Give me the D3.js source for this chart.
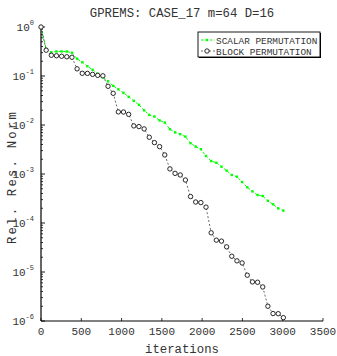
<!DOCTYPE html>
<html>
<head>
<meta charset="utf-8">
<script src="https://cdn.jsdelivr.net/npm/d3@7"></script>
<style>
  html, body { margin: 0; padding: 0; background: #fff; }
  svg { display: block; }
  text { font-family: "Liberation Mono", "Courier New", monospace; fill: #333; }
</style>
</head>
<body>
<svg id="chart" width="337" height="356"></svg>
<script>
// Restart-cycle iteration counts (m = 64)
const iterations = [0, 64, 128, 192, 256, 320, 384, 448, 512, 576, 640, 704, 768, 832, 896, 960,
  1024, 1088, 1152, 1216, 1280, 1344, 1408, 1472, 1536, 1600, 1664, 1728, 1792, 1856, 1920, 1984,
  2048, 2112, 2176, 2240, 2304, 2368, 2432, 2496, 2560, 2624, 2688, 2752, 2816, 2880, 2944, 3008];

// Relative residual norm, scalar permutation
const scalarRes = [1.0, 0.360, 0.305, 0.317, 0.317, 0.316, 0.298, 0.225, 0.191, 0.158, 0.134, 0.111,
  0.0940, 0.0779, 0.0630, 0.0535, 0.0453, 0.0376, 0.0311, 0.0258, 0.0199, 0.0161, 0.0149, 0.0124,
  0.0112, 0.00820, 0.00706, 0.00649, 0.00579, 0.00425, 0.00362, 0.00320, 0.00233, 0.00184, 0.00170,
  0.00141, 0.00117, 0.000955, 0.000881, 0.000686, 0.000535, 0.000443, 0.000372, 0.000355, 0.000283,
  0.000241, 0.000199, 0.000179];

// Relative residual norm, block permutation
const blockRes = [1.0, 0.336, 0.265, 0.259, 0.253, 0.247, 0.241, 0.140, 0.1135, 0.113, 0.108, 0.103,
  0.101, 0.0616, 0.0443, 0.0185, 0.0184, 0.0165, 0.00959, 0.00928, 0.00832, 0.00563, 0.00437, 0.00362,
  0.00245, 0.00127, 0.00103, 0.000955, 0.000754, 0.000347, 0.000268, 0.000261, 0.000211, 6.31e-5,
  4.47e-5, 4.27e-5, 3.26e-5, 2.10e-5, 1.69e-5, 1.53e-5, 8.60e-6, 6.28e-6, 6.18e-6, 4.95e-6, 2.00e-6,
  1.42e-6, 1.41e-6, 1.17e-6];

const xTicks = [0, 500, 1000, 1500, 2000, 2500, 3000, 3500];
const yExponents = [0, -1, -2, -3, -4, -5, -6];
const seriesNames = ["SCALAR PERMUTATION", "BLOCK PERMUTATION"];
const titleText = "GPREMS: CASE_17 m=64 D=16";
const xLabel = "iterations";
const yLabel = "Rel. Res. Norm";

const svg = d3.select("#chart");
const plotLeft = 41, plotRight = 323, plotTop = 27, plotBottom = 321;

const x = d3.scaleLinear().domain([0, 3500]).range([plotLeft, plotRight]);
const y = d3.scaleLog().domain([1e-6, 1]).range([plotBottom, plotTop]);

const green = "#00ff00";

// Axes lines
svg.append("line").attr("x1", plotLeft).attr("x2", plotLeft).attr("y1", plotTop).attr("y2", plotBottom)
  .attr("stroke", "#000").attr("stroke-width", 1.2);
svg.append("line").attr("x1", plotLeft).attr("x2", plotRight).attr("y1", plotBottom).attr("y2", plotBottom)
  .attr("stroke", "#000").attr("stroke-width", 1.2);

// X ticks (inward) and labels
const xg = svg.append("g");
xTicks.forEach(t => {
  xg.append("line").attr("x1", x(t)).attr("x2", x(t)).attr("y1", plotBottom).attr("y2", plotBottom - 3)
    .attr("stroke", "#000").attr("stroke-width", 0.8);
  xg.append("text").attr("x", x(t)).attr("y", plotBottom + 14).attr("text-anchor", "middle")
    .attr("font-size", 11).text(t);
});

// Y ticks: major per decade, minor at 2..9
const yg = svg.append("g");
yExponents.forEach(e => {
  const v = Math.pow(10, e);
  yg.append("line").attr("x1", plotLeft).attr("x2", plotLeft + 4).attr("y1", y(v)).attr("y2", y(v))
    .attr("stroke", "#000").attr("stroke-width", 0.9);
  const lab = yg.append("text").attr("x", plotLeft - 7).attr("y", y(v) + 4)
    .attr("text-anchor", "end").attr("font-size", 11);
  lab.append("tspan").text("10");
  lab.append("tspan").attr("dy", -6).attr("font-size", 7).text(e);
  if (e > -6) {
    for (let m = 2; m <= 9; m++) {
      const mv = m * Math.pow(10, e - 1);
      yg.append("line").attr("x1", plotLeft).attr("x2", plotLeft + 2).attr("y1", y(mv)).attr("y2", y(mv))
        .attr("stroke", "#000").attr("stroke-width", 0.8);
    }
  }
});

// Titles
svg.append("text").attr("x", 182).attr("y", 17).attr("text-anchor", "middle")
  .attr("font-size", 12.3).text(titleText);
svg.append("text").attr("x", 182).attr("y", 353).attr("text-anchor", "middle")
  .attr("font-size", 12.3).text(xLabel);
svg.append("text").attr("transform", "translate(16,177) rotate(-90)").attr("text-anchor", "middle")
  .attr("font-size", 12.3).attr("letter-spacing", 2.2).text(yLabel);

const line = d3.line().x(d => x(d[0])).y(d => y(d[1]));
const scalarPts = iterations.map((it, i) => [it, scalarRes[i]]);
const blockPts = iterations.map((it, i) => [it, blockRes[i]]);

// Scalar permutation: green dashed line with point markers
svg.append("path").datum(scalarPts).attr("d", line).attr("fill", "none")
  .attr("stroke", green).attr("stroke-width", 1).attr("stroke-dasharray", "2.5,2");
svg.append("g").selectAll("rect").data(scalarPts).join("rect")
  .attr("x", d => x(d[0]) - 1.2).attr("y", d => y(d[1]) - 1.2)
  .attr("width", 2.4).attr("height", 2.4).attr("fill", green);

// Block permutation: black dashed line with open circles
svg.append("path").datum(blockPts).attr("d", line).attr("fill", "none")
  .attr("stroke", "#444").attr("stroke-width", 0.8).attr("stroke-dasharray", "2,2");
svg.append("g").selectAll("circle").data(blockPts).join("circle")
  .attr("cx", d => x(d[0])).attr("cy", d => y(d[1])).attr("r", 2.2)
  .attr("fill", "#fff").attr("stroke", "#111").attr("stroke-width", 0.9);

// Legend
const lg = svg.append("g");
lg.append("rect").attr("x", 199).attr("y", 33).attr("width", 122).attr("height", 25)
  .attr("fill", "#000");
lg.append("rect").attr("x", 198).attr("y", 32).attr("width", 122).attr("height", 25)
  .attr("fill", "#fff").attr("stroke", "#000").attr("stroke-width", 0.9);
const rows = [
  { name: seriesNames[0], yy: 40 },
  { name: seriesNames[1], yy: 51 }
];
// scalar sample
lg.append("line").attr("x1", 201).attr("x2", 215).attr("y1", rows[0].yy).attr("y2", rows[0].yy)
  .attr("stroke", green).attr("stroke-width", 1).attr("stroke-dasharray", "2.5,2");
lg.append("rect").attr("x", 207 - 1.2).attr("y", rows[0].yy - 1.2).attr("width", 2.4).attr("height", 2.4)
  .attr("fill", green);
// block sample
lg.append("line").attr("x1", 201).attr("x2", 215).attr("y1", rows[1].yy).attr("y2", rows[1].yy)
  .attr("stroke", "#444").attr("stroke-width", 0.8).attr("stroke-dasharray", "2,2");
lg.append("circle").attr("cx", 207).attr("cy", rows[1].yy).attr("r", 2.2)
  .attr("fill", "#fff").attr("stroke", "#111").attr("stroke-width", 0.9);
rows.forEach(r => {
  lg.append("text").attr("x", 216).attr("y", r.yy + 3.5).attr("font-size", 9.4).text(r.name);
});
</script>
</body>
</html>
